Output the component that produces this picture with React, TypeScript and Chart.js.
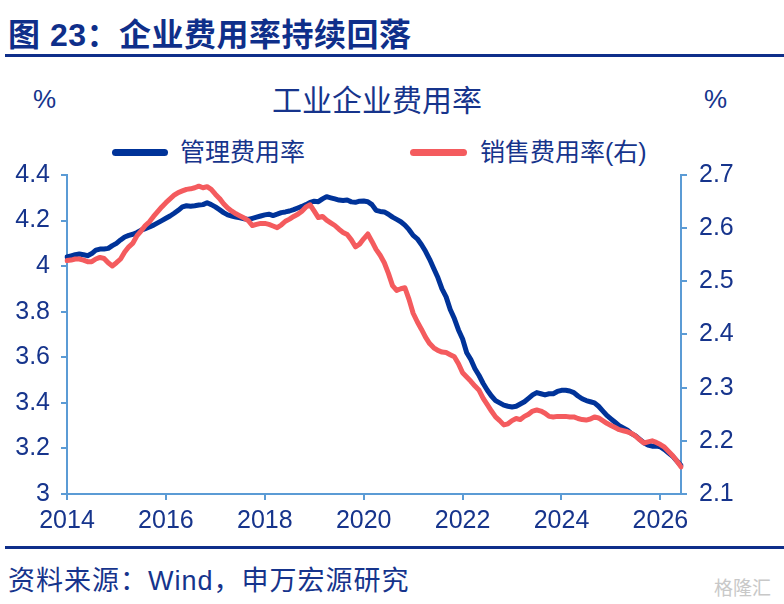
import React, { useEffect, useRef } from 'react';
import { Chart, registerables } from 'chart.js';

Chart.register(...registerables);

// monthly series, 2014-01 .. 2026-06
const startYear = 2014;
const months: string[] = [];
for (let i = 0; i < 150; i++) {
  const y = startYear + Math.floor(i / 12);
  const m = (i % 12) + 1;
  months.push(`${y}-${m < 10 ? '0' + m : m}`);
}

const yearTicks = ['2014', '2016', '2018', '2020', '2022', '2024', '2026'];

// 管理费用率 (left axis, %)
const adminRate = [
  4.04, 4.045, 4.05, 4.053, 4.05, 4.046, 4.055, 4.07, 4.075, 4.075, 4.078, 4.09,
  4.1, 4.115, 4.128, 4.135, 4.14, 4.148, 4.158, 4.165, 4.172, 4.18, 4.19, 4.2,
  4.21, 4.22, 4.232, 4.245, 4.26, 4.265, 4.263, 4.265, 4.268, 4.27, 4.278, 4.27,
  4.26, 4.248, 4.235, 4.225, 4.22, 4.215, 4.212, 4.208, 4.205, 4.21, 4.215, 4.22,
  4.225, 4.228, 4.222, 4.228, 4.235, 4.238, 4.242, 4.248, 4.255, 4.262, 4.27, 4.28,
  4.285, 4.283, 4.295, 4.305, 4.3, 4.295, 4.29, 4.288, 4.29, 4.282, 4.28, 4.285,
  4.286, 4.283, 4.27, 4.245, 4.24, 4.238, 4.228, 4.215, 4.205, 4.195, 4.18, 4.16,
  4.135, 4.12, 4.095, 4.065, 4.03, 3.99, 3.95, 3.9, 3.865, 3.81, 3.77, 3.72,
  3.68, 3.62, 3.59, 3.55, 3.52, 3.485, 3.455, 3.43, 3.41, 3.4, 3.39, 3.385,
  3.382, 3.385, 3.395, 3.405, 3.42, 3.435, 3.445, 3.44, 3.435, 3.44, 3.44, 3.45,
  3.455, 3.455, 3.452, 3.445, 3.43, 3.418, 3.41, 3.405, 3.4, 3.385, 3.365, 3.345,
  3.33, 3.315, 3.3, 3.29, 3.28, 3.265, 3.255, 3.24, 3.225, 3.215, 3.21, 3.21,
  3.207, 3.195, 3.18, 3.165, 3.145, 3.125,
];

// 销售费用率 (right axis, %)
const salesRate = [
  2.539, 2.54, 2.542, 2.542, 2.54, 2.537, 2.537, 2.542, 2.545, 2.543, 2.535, 2.529,
  2.535, 2.542, 2.555, 2.565, 2.572, 2.586, 2.595, 2.605, 2.612, 2.622, 2.631, 2.64,
  2.648, 2.655, 2.662, 2.667, 2.67, 2.673, 2.674, 2.676, 2.679, 2.676, 2.678, 2.673,
  2.664, 2.656, 2.646, 2.638, 2.632, 2.627, 2.623, 2.619, 2.614, 2.605, 2.607, 2.609,
  2.609, 2.607, 2.604, 2.601, 2.606, 2.613, 2.617, 2.622, 2.626, 2.632, 2.64, 2.644,
  2.632, 2.62, 2.622, 2.615, 2.61, 2.605, 2.598, 2.592, 2.588, 2.578, 2.565, 2.57,
  2.58, 2.589, 2.575, 2.56, 2.549, 2.535, 2.515, 2.492, 2.483, 2.486, 2.488, 2.466,
  2.44, 2.424, 2.41, 2.395, 2.383, 2.375, 2.37, 2.367, 2.366, 2.362, 2.358, 2.345,
  2.328, 2.32, 2.312, 2.303, 2.295, 2.28, 2.268, 2.256, 2.245, 2.238, 2.23, 2.232,
  2.238, 2.242, 2.24, 2.246, 2.25, 2.256, 2.258, 2.256, 2.252, 2.246, 2.245, 2.246,
  2.246, 2.246, 2.245, 2.245, 2.242, 2.24, 2.239, 2.241, 2.245, 2.243, 2.238, 2.233,
  2.229, 2.225, 2.221, 2.219, 2.217, 2.214, 2.209, 2.202, 2.196, 2.198, 2.2, 2.197,
  2.193, 2.188, 2.18, 2.172, 2.162, 2.151,
];

const navy = '#0F2F8A';
const textColor = '#16348C';
const axisColor = '#5B9BD5';
const blue = '#003399';
const red = '#F45B5E';
const latin = '"Liberation Sans", Arial, "Noto Sans CJK SC", sans-serif';
const cjk = '"Liberation Sans", "Noto Sans CJK SC", sans-serif';

const yearLabel = (i: number) => {
  const label = months[i];
  if (!label || !label.endsWith('-01')) return '';
  const y = label.slice(0, 4);
  return yearTicks.includes(y) ? y : '';
};

// 4.0 -> "4", 4.4 -> "4.4"
const numLabel = (v: any) => String(Math.round(Number(v) * 10) / 10);

const ChartCanvas: React.FC = () => {
  const canvasRef = useRef<HTMLCanvasElement>(null);
  const chartRef = useRef<Chart | null>(null);

  useEffect(() => {
    if (!canvasRef.current) return;
    const ctx = canvasRef.current.getContext('2d');
    if (!ctx) return;

    if (chartRef.current) chartRef.current.destroy();

    const tickFont = { family: latin, size: 25 };

    chartRef.current = new Chart(ctx, {
      type: 'line',
      data: {
        labels: months,
        datasets: [
          {
            label: '管理费用率',
            data: adminRate,
            yAxisID: 'y',
            borderColor: blue,
            borderWidth: 5,
            pointRadius: 0,
            tension: 0,
            borderJoinStyle: 'round',
            borderCapStyle: 'round',
            order: 2,
          },
          {
            label: '销售费用率(右)',
            data: salesRate,
            yAxisID: 'y1',
            borderColor: red,
            borderWidth: 5,
            pointRadius: 0,
            tension: 0,
            borderJoinStyle: 'round',
            borderCapStyle: 'round',
            order: 1,
          },
        ],
      },
      options: {
        animation: false,
        responsive: true,
        maintainAspectRatio: false,
        layout: { padding: { top: 14, left: 0, right: 0, bottom: 0 } },
        plugins: {
          legend: { display: false },
          title: { display: false },
          tooltip: { enabled: false },
        },
        scales: {
          x: {
            type: 'category',
            offset: false,
            grid: {
              drawOnChartArea: false,
              drawTicks: true,
              tickLength: 6,
              lineWidth: 2,
              color: (c: any) => (yearLabel(c.index) ? axisColor : 'rgba(0,0,0,0)'),
            },
            border: { color: axisColor, width: 2 },
            ticks: {
              autoSkip: false,
              maxRotation: 0,
              minRotation: 0,
              padding: 6,
              color: textColor,
              font: tickFont,
              callback: (_v: any, i: number) => yearLabel(i),
            },
            afterFit: (s: any) => {
              s.height = 46;
            },
          },
          y: {
            position: 'left',
            min: 3,
            max: 4.4,
            grid: { drawOnChartArea: false, drawTicks: true, tickLength: 6, lineWidth: 2, color: axisColor },
            border: { color: axisColor, width: 2 },
            ticks: { stepSize: 0.2, padding: 11, color: textColor, font: tickFont, callback: numLabel },
            afterFit: (s: any) => {
              s.width = 67;
            },
          },
          y1: {
            position: 'right',
            min: 2.1,
            max: 2.7,
            grid: { drawOnChartArea: false, drawTicks: true, tickLength: 6, lineWidth: 2, color: axisColor },
            border: { color: axisColor, width: 2 },
            ticks: { stepSize: 0.1, padding: 12, color: textColor, font: tickFont, callback: numLabel },
            afterFit: (s: any) => {
              s.width = 103;
            },
          },
        },
      },
    });

    return () => {
      if (chartRef.current) {
        chartRef.current.destroy();
        chartRef.current = null;
      }
    };
  }, []);

  return (
    <div style={{ position: 'absolute', left: 0, top: 148, width: 784, height: 392 }}>
      <canvas ref={canvasRef}></canvas>
    </div>
  );
};

const abs = (left: number, top: number, extra: React.CSSProperties = {}): React.CSSProperties => ({
  position: 'absolute',
  left,
  top,
  whiteSpace: 'nowrap',
  ...extra,
});

const App: React.FC = () => {
  return (
    <div style={{ position: 'absolute', left: 0, top: 0, width: 784, height: 604, background: '#fff', overflow: 'hidden', fontFamily: cjk, color: textColor }}>
      <div style={abs(8, 19, { fontSize: 32, lineHeight: '32px', fontWeight: 700, color: navy, letterSpacing: 0.5 })}>图 23：企业费用率持续回落</div>
      <div style={abs(5, 54, { width: 779, height: 3, background: navy })} />

      <div style={abs(33, 86, { fontSize: 26, lineHeight: '26px', fontFamily: latin })}>%</div>
      <div style={abs(272, 86, { fontSize: 30, lineHeight: '30px' })}>工业企业费用率</div>
      <div style={abs(704, 86, { fontSize: 26, lineHeight: '26px', fontFamily: latin })}>%</div>

      <div style={abs(112, 149, { width: 56, height: 7, borderRadius: 4, background: blue })} />
      <div style={abs(180, 140, { fontSize: 25, lineHeight: '25px' })}>管理费用率</div>
      <div style={abs(410, 149, { width: 57, height: 7, borderRadius: 4, background: red })} />
      <div style={abs(480, 140, { fontSize: 25, lineHeight: '25px' })}>销售费用率(右)</div>

      <ChartCanvas />

      <div style={abs(5, 546, { width: 779, height: 3, background: navy })} />
      <div style={abs(8, 567, { fontSize: 27, lineHeight: '28px', letterSpacing: 1 })}>资料来源：Wind，申万宏源研究</div>
      <div style={abs(714, 578, { fontSize: 19, lineHeight: '22px', color: '#c8c8c8' })}>格隆汇</div>
    </div>
  );
};

export default App;
